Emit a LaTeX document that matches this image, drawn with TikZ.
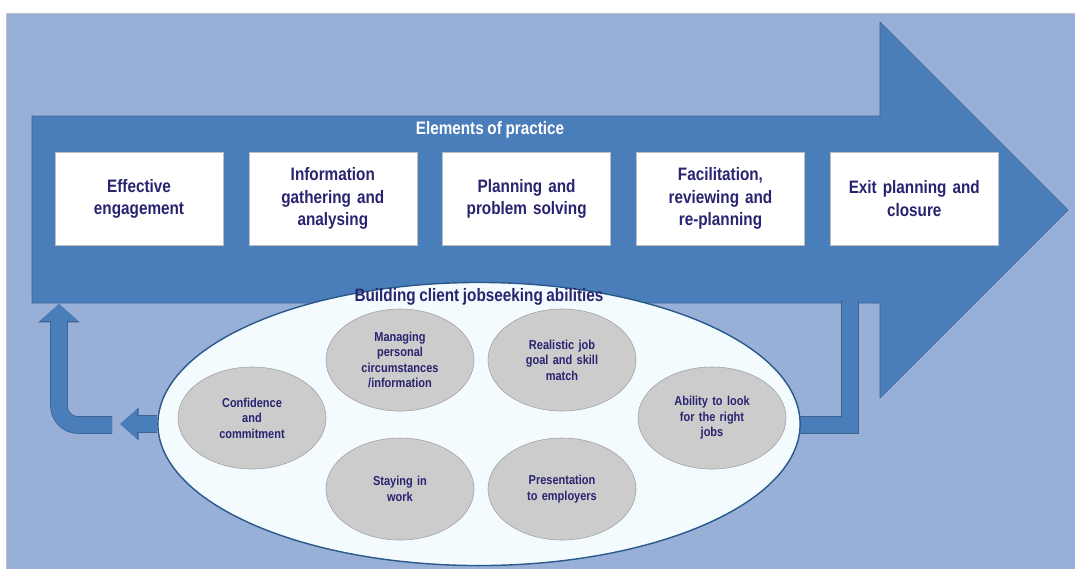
\documentclass[tikz,border=0pt]{standalone}
\usepackage{fontspec}
\setmainfont{Liberation Sans}[FakeStretch=0.85, WordSpace=0.85]
\usepackage{tikz}
\usetikzlibrary{positioning,shapes.geometric,arrows.meta,calc}

\definecolor{bgblue}{RGB}{152,176,216}
\definecolor{arrowblue}{RGB}{74,126,187}
\definecolor{arrowline}{RGB}{60,98,145}
\definecolor{navy}{RGB}{40,36,112}
\definecolor{boxgrey}{RGB}{190,190,190}
\definecolor{skillfill}{RGB}{204,204,204}
\definecolor{skillline}{RGB}{160,160,160}
\definecolor{ellfill}{RGB}{244,251,254}
\definecolor{ellline}{RGB}{42,88,136}

\newcommand{\boxfont}{\fontsize{12.8}{15.8}\selectfont\bfseries}
\newcommand{\skillfont}{\fontsize{9.2}{11}\selectfont\bfseries}

\tikzstyle{box} = [rectangle, draw=boxgrey, fill=white, text=navy, %
   text centered, minimum width=4.2cm, minimum height=2.325cm, %
   text width=3.9cm, align=center, font=\boxfont]
\tikzstyle{skill} = [ellipse, draw=skillline, fill=skillfill, %
   text=navy, inner sep=0pt, minimum width=3.7cm, minimum height=2.55cm, %
   text width=2.2cm, align=center, font=\skillfont]
\tikzstyle{heading} = [inner sep=0pt, font=\boxfont]
\tikzstyle{band} = [draw=arrowblue, line width=0.4cm, %
   preaction={draw=arrowline, line width=0.44cm}]
\tikzstyle{line} = [band, -{Triangle[length=0pt 1.05, width=0pt 1.8]}]

\begin{document}
\begin{tikzpicture}[x=0.025cm, y=-0.025cm]
      \useasboundingbox (0,0) rectangle (1075,568);
      \fill[white] (0,0) rectangle (1075,568);
      \filldraw[fill=bgblue, draw=boxgrey] (6,13) rectangle (1076,569);

      % Big arrow
      \coordinate (tailbot) at (32,303);
      \coordinate (drop) at (850,300);
      \filldraw[fill=arrowblue, draw=arrowline] (32,116) -- (880,116) -- (880,22)
         -- (1068,210) -- (880,398) -- (880,303) -- (tailbot) -- cycle;
      \node[heading, text=white] (elements) at (490,130) {Elements of practice};

      % Stages
      \node[box] (engage) at (139,198.5) {Effective\\engagement};
      \node[box, right=0.63cm of engage] (gather) {Information\\gathering and\\analysing};
      \node[box, right=0.63cm of gather] (plan) {Planning and\\problem solving};
      \node[box, right=0.63cm of plan] (review) {Facilitation,\\reviewing and\\re-planning};
      \node[box, right=0.63cm of review] (exit) {Exit planning and\\closure};

      % Abilities
      \coordinate (bend) at (112,425);
      \path [band] (drop) |- (479,425);
      \node[ellipse, draw=ellline, line width=1pt, fill=ellfill, %
         minimum width=16.05cm, minimum height=7.075cm] (abil) at (479,424) {};
      \node[heading, text=navy, below=0.15cm of abil.north] (abiltitle)
         {Building client jobseeking abilities};

      \node[skill] (confid) at (252,418) {Confidence\\and\\commitment};
      \node[skill] (manage) at (400,360) {Managing\\personal\\circumstances\\/information};
      \node[skill] (goal) at (562,360) {Realistic job\\goal and skill\\match};
      \node[skill] (look) at (712,418) {Ability to look\\for the right\\jobs};
      \node[skill] (stay) at (400,489) {Staying in\\work};
      \node[skill] (present) at (562,489) {Presentation\\to employers};

      % Feedback arrows
      \path [line] (abil.west) -- ++(-37,0);
      \path [line, -{Triangle[length=0pt 1.05, width=0pt 2.3]}, rounded corners=0.48cm]
         (bend) -| ($(tailbot)+(27,1)$);
\end{tikzpicture}
\end{document}
